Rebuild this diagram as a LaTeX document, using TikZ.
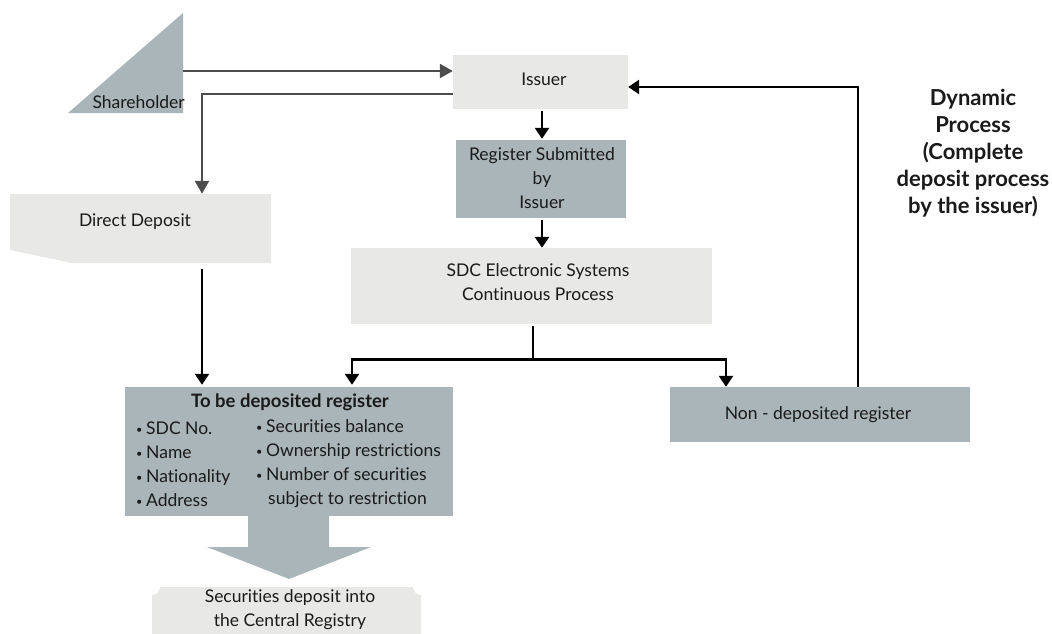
\documentclass[tikz,border=0pt]{standalone}
\usepackage{fontspec}
\setmainfont{Lato}[Ligatures=NoCommon]
\usetikzlibrary{arrows.meta}
\definecolor{lightbox}{RGB}{232,232,230}
\definecolor{bluebox}{RGB}{169,181,184}
\definecolor{darkline}{RGB}{77,77,77}
\definecolor{txt}{RGB}{26,26,26}
\newcommand\mybul{\makebox[10pt][l]{\fontsize{11}{11}\selectfont\raisebox{1pt}{•}}}
\tikzset{
  lbox/.style={rectangle, fill=lightbox, draw=none, inner sep=0pt},
  bbox/.style={rectangle, fill=bluebox, draw=none, inner sep=0pt},
  txtnode/.style={inner sep=0pt, align=center, text=txt, font=\fontsize{17.5}{24}\selectfont},
  boldtxt/.style={inner sep=0pt, align=center, text=txt, font=\fontsize{22}{27}\selectfont\bfseries},
  barrow/.style={draw=black, line width=2.6pt, -{Triangle[length=11pt,width=14pt]}},
  garrow/.style={draw=darkline, line width=2.4pt, -{Triangle[length=13pt,width=14pt]}},
  bline/.style={draw=black, line width=2.6pt},
}
\begin{document}
\begin{tikzpicture}[x=1pt,y=-1pt]
\useasboundingbox (0,0) rectangle (1052,634);
% Shareholder triangle
\fill[bluebox] (68,113) -- (183,13) -- (183,113) -- cycle;
\node[txtnode, anchor=east] (shtext) at (185,102) {Shareholder};
\coordinate (sh) at (183,71);
% Issuer
\node[lbox, minimum width=175pt, minimum height=54pt] (issuer) at (540.5,82) {};
\node[txtnode] (issuertext) at (544,79) {Issuer};
% Register submitted
\node[bbox, minimum width=170pt, minimum height=78pt] (reg) at (541,179) {};
\node[txtnode] (regtext) at (542,178) {Register Submitted\\by\\Issuer};
% SDC
\node[lbox, minimum width=361pt, minimum height=76pt] (sdc) at (531.5,286) {};
\node[txtnode] (sdctext) at (538,282.5) {SDC Electronic Systems\\Continuous Process};
% Direct deposit
\fill[lightbox] (10,194) -- (271,194) -- (271,263) -- (72,263) -- (10,250) -- cycle;
\node[minimum width=261pt, minimum height=69pt, inner sep=0pt] (dd) at (140.5,228.5) {};
\node[txtnode] (ddtext) at (135,222) {Direct Deposit};
% Non-deposited
\node[bbox, minimum width=300pt, minimum height=55pt] (non) at (820,414.5) {};
\node[txtnode] (nontext) at (818,415) {Non - deposited register};
% To be deposited register
\node[bbox, minimum width=328pt, minimum height=129pt] (tbd) at (289,451.5) {};
\node[txtnode, font=\fontsize{18.5}{24}\selectfont\bfseries] (tbdtitle) at (290,402) {To be deposited register};
\node[txtnode, anchor=west, align=left] (tbdleft) at (136,464) {\mybul SDC No.\\\mybul Name\\\mybul Nationality\\\mybul Address};
\node[txtnode, anchor=west, align=left] (tbdright) at (256,464) {\mybul Securities balance\\\mybul Ownership restrictions\\\mybul Number of securities\\\hspace*{12pt}subject to restriction};
% Big arrow
\fill[bluebox] (248,516) -- (329,516) -- (329,547) -- (371,547) -- (289,579) -- (207,547) -- (248,547) -- cycle;
% Securities deposit
\fill[lightbox] (152,634) -- (152,595) .. controls (156.5,595) and (160,591.5) .. (160,587)
  -- (413,587) .. controls (413,591.5) and (416.5,595) .. (421,595) -- (421,634) -- cycle;
\node[minimum width=269pt, minimum height=47pt, inner sep=0pt] (sec) at (286.5,610.5) {};
\node[txtnode] (sectext) at (290,610) {Securities deposit into\\the Central Registry};
% Dynamic process
\node[boldtxt] (dyn) at (973,153) {Dynamic\\Process\\(Complete\\deposit process\\by the issuer)};
% Connectors
\draw[garrow] (sh) -- (sh -| issuer.west);
\draw[garrow] ([yshift=-12pt]issuer.west) -| ([xshift=61.5pt]dd.north);
\draw[barrow, shorten <=2pt, shorten >=1pt] (issuer.south -| 542,0) -- (reg.north -| 542,0);
\draw[barrow, shorten <=2pt, shorten >=0pt] (reg.south -| 542,0) -- (sdc.north -| 542,0);
\draw[bline] ([xshift=1.5pt,yshift=-2pt]sdc.south) -- ++(0,33) coordinate (split);
\draw[barrow, shorten >=2pt] (split) -| ([xshift=63pt]tbd.north);
\draw[barrow] (split) -| ([xshift=-94pt]non.north);
\draw[barrow, shorten >=2pt] ([xshift=61.5pt,yshift=-6pt]dd.south) -- ([xshift=-87pt]tbd.north);
\draw[barrow] ([xshift=38pt]non.north) |- ([yshift=-5pt]issuer.east);
\end{tikzpicture}
\end{document}
